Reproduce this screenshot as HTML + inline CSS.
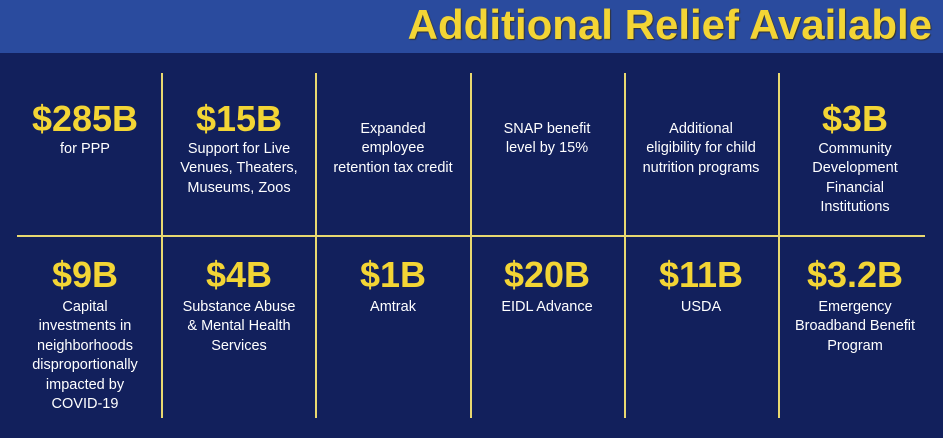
<!DOCTYPE html>
<html><head><style>
body{margin:0;width:943px;height:438px;overflow:hidden;background:#12205c;font-family:"Liberation Sans",Arial,sans-serif;position:relative}
.hdr{position:absolute;left:0;top:0;width:943px;height:53px;background:#2a4b9e}
.title{position:absolute;right:11px;top:1px;font-size:42px;font-weight:bold;color:#f3d535;white-space:nowrap;text-shadow:1px 1px 1px #333}
.v{position:absolute;width:2px;background:#e8d870;top:73px;height:345px}
.h{position:absolute;left:17px;width:908px;top:235px;height:2px;background:#e8d870}
.c{position:absolute;width:150px;text-align:center;color:#fff;font-size:14.5px;line-height:19.4px}
.n{position:absolute;width:150px;text-align:center;color:#f3d535;font-weight:bold;font-size:36px;line-height:36px}
</style></head><body>
<div class="hdr"></div>
<div class="title">Additional Relief Available</div>
<div class="v" style="left:161px"></div>
<div class="v" style="left:315px"></div>
<div class="v" style="left:470px"></div>
<div class="v" style="left:624px"></div>
<div class="v" style="left:778px"></div>
<div class="h"></div>

<div class="n" style="left:10px;top:101px">$285B</div>
<div class="c" style="left:10px;top:140px">for PPP</div>
<div class="n" style="left:164px;top:101px">$15B</div>
<div class="c" style="left:164px;top:140px">Support for Live<br>Venues, Theaters,<br>Museums, Zoos</div>
<div class="c" style="left:318px;top:120px">Expanded<br>employee<br>retention tax credit</div>
<div class="c" style="left:472px;top:120px">SNAP benefit<br>level by 15%</div>
<div class="c" style="left:626px;top:120px">Additional<br>eligibility for child<br>nutrition programs</div>
<div class="n" style="left:780px;top:101px">$3B</div>
<div class="c" style="left:780px;top:140px">Community<br>Development<br>Financial<br>Institutions</div>

<div class="n" style="left:10px;top:257px">$9B</div>
<div class="c" style="left:10px;top:298px">Capital<br>investments in<br>neighborhoods<br>disproportionally<br>impacted by<br>COVID-19</div>
<div class="n" style="left:164px;top:257px">$4B</div>
<div class="c" style="left:164px;top:298px">Substance Abuse<br>&amp; Mental Health<br>Services</div>
<div class="n" style="left:318px;top:257px">$1B</div>
<div class="c" style="left:318px;top:298px">Amtrak</div>
<div class="n" style="left:472px;top:257px">$20B</div>
<div class="c" style="left:472px;top:298px">EIDL Advance</div>
<div class="n" style="left:626px;top:257px">$11B</div>
<div class="c" style="left:626px;top:298px">USDA</div>
<div class="n" style="left:780px;top:257px">$3.2B</div>
<div class="c" style="left:780px;top:298px">Emergency<br>Broadband Benefit<br>Program</div>
</body></html>
